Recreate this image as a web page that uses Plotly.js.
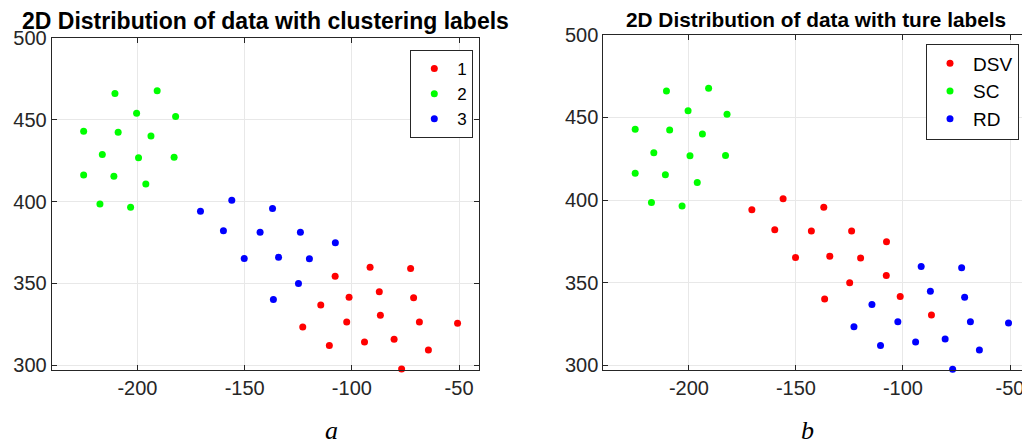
<!DOCTYPE html>
<html>
<head>
<meta charset="utf-8">
<script src="https://cdn.plot.ly/plotly-3.0.1.min.js"></script>
<style>
html,body{margin:0;padding:0;background:#fff;}
#chart{width:1022px;height:444px;}
</style>
</head>
<body>
<div id="chart"></div>
<script>
// ---- data ----
const pointX = [
  -210.5, -190.8, -200.4, -182.2, -225.1, -209.0, -193.7, -216.4, -199.5, -182.9, -225.1, -211.0, -196.1, -217.5, -203.2,
  -170.6, -156.0, -137.0, -159.9, -142.8, -124.0, -150.2, -134.2, -119.8, -124.9, -136.6, -107.7,
  -107.8, -101.3, -86.7,
  -91.5, -72.6, -87.2, -71.2, -114.5, -102.4, -68.5, -50.7, -122.9, -80.3, -110.5, -94.1, -64.3, -101.3, -76.8
];
const pointY = [
  466.0, 467.7, 454.0, 452.0, 442.9, 442.4, 440.0, 428.7, 426.8, 427.0, 416.2, 415.4, 410.7, 398.5, 396.5,
  394.1, 400.8, 395.7, 382.1, 381.3, 381.3, 365.2, 366.0, 365.0, 350.0, 340.2, 374.8,
  354.4, 341.6, 330.5,
  359.9, 359.1, 344.9, 341.2, 336.8, 326.4, 326.4, 325.6, 323.4, 315.9, 312.0, 314.2, 309.3, 297.0, 297.7
];
const clusterLabel = [
  2,2,2,2,2,2,2,2,2,2,2,2,2,2,2,
  3,3,3,3,3,3,3,3,3,3,3,3,
  1,1,1,
  1,1,1,1,1,1,1,1,1,1,1,1,1,1,1
];
const trueLabel = [
  'SC','SC','SC','SC','SC','SC','SC','SC','SC','SC','SC','SC','SC','SC','SC',
  'DSV','DSV','DSV','DSV','DSV','DSV','DSV','DSV','DSV','DSV','DSV','DSV',
  'DSV','DSV','DSV',
  'RD','RD','RD','RD','RD','RD','RD','RD','RD','RD','RD','RD','RD','RD','RD'
];
const clusterNames = ['1','2','3'];
const trueNames = ['DSV','SC','RD'];
const xTicks = [-200, -150, -100, -50];
const yTicks = [300, 350, 400, 450, 500];
const titleLeft = '2D Distribution of data with clustering labels';
const titleRight = '2D Distribution of data with ture labels';

// ---- styling ----
const colors = ['#ff0000', '#00ff00', '#0000ff'];
const FONT = 'Liberation Sans, Arial, Helvetica, sans-serif';
const INK = '#262626';
const W = 1022, H = 444;

function pick(arr, lab, v){ return arr.filter((_, i) => lab[i] === v); }

const traces = [];
clusterNames.forEach((nm, k) => {
  const v = k + 1;
  traces.push({
    type: 'scatter', mode: 'markers', name: nm,
    x: pick(pointX, clusterLabel, v), y: pick(pointY, clusterLabel, v),
    xaxis: 'x', yaxis: 'y', legend: 'legend', cliponaxis: false,
    marker: {color: colors[k], size: 7}
  });
});
trueNames.forEach((nm, k) => {
  traces.push({
    type: 'scatter', mode: 'markers', name: nm,
    x: pick(pointX, trueLabel, nm), y: pick(pointY, trueLabel, nm),
    xaxis: 'x2', yaxis: 'y2', legend: 'legend2', cliponaxis: false,
    marker: {color: colors[k], size: 7}
  });
});

function xAxis(domain, range, mirror){
  return {
    domain: domain, range: range, tickvals: xTicks, ticktext: xTicks.map(String),
    showgrid: true, gridcolor: '#e8e8e8', gridwidth: 1, zeroline: false,
    showline: true, linecolor: INK, linewidth: 1, mirror: mirror,
    ticks: 'inside', ticklen: 5, tickcolor: INK, tickwidth: 1,
    ticklabeloverflow: 'allow',
    tickfont: {family: FONT, size: 20, color: INK}, fixedrange: true
  };
}
function yAxis(domain, range, mirror, anchor){
  return {
    domain: domain, range: range, tickvals: yTicks, ticktext: yTicks.map(String),
    anchor: anchor,
    showgrid: true, gridcolor: '#e8e8e8', gridwidth: 1, zeroline: false,
    showline: true, linecolor: INK, linewidth: 1, mirror: mirror,
    ticks: 'inside', ticklen: 5, tickcolor: INK, tickwidth: 1,
    ticklabeloverflow: 'allow',
    tickfont: {family: FONT, size: 20, color: INK}, fixedrange: true
  };
}

const layout = {
  width: W, height: H,
  margin: {l: 0, r: 0, t: 0, b: 0, pad: 0},
  paper_bgcolor: '#ffffff', plot_bgcolor: '#ffffff',
  showlegend: true,
  xaxis: Object.assign(xAxis([51.7/W, 479/W], [-240, -40.7], 'allticks'), {anchor: 'y'}),
  yaxis: yAxis([1-370/H, 1-37.5/H], [297.1, 500.2], 'allticks', 'x'),
  xaxis2: Object.assign(xAxis([603.3/W, 1], [-240, -44.4], 'allticks'), {anchor: 'y2'}),
  yaxis2: yAxis([1-370/H, 1-34.5/H], [297.2, 500.2], false, 'x2'),
  legend: {
    x: 473.3/W, xanchor: 'right', y: 1-50/H, yanchor: 'top',
    bgcolor: '#ffffff', bordercolor: INK, borderwidth: 1, itemwidth: 36,
    font: {family: FONT, size: 17, color: '#000'}, tracegroupgap: 0
  },
  legend2: {
    x: 1019/W, xanchor: 'right', y: 1-43.5/H, yanchor: 'top',
    bgcolor: '#ffffff', bordercolor: INK, borderwidth: 1, itemwidth: 36,
    font: {family: FONT, size: 19, color: '#000'}, tracegroupgap: 0
  },
  annotations: [
    {text: '<b>' + titleLeft + '</b>', xref: 'paper', yref: 'paper', x: 265/W, y: 1-21/H,
     xanchor: 'center', yanchor: 'middle', showarrow: false,
     font: {family: FONT, size: 23, color: '#000'}},
    {text: '<b>' + titleRight + '</b>', xref: 'paper', yref: 'paper', x: 816/W, y: 1-20/H,
     xanchor: 'center', yanchor: 'middle', showarrow: false,
     font: {family: FONT, size: 20.8, color: '#000'}},
    {text: '<i>a</i>', xref: 'paper', yref: 'paper', x: 331/W, y: 0,
     xanchor: 'center', yanchor: 'bottom', yshift: -3, showarrow: false,
     font: {family: 'Liberation Serif, Times New Roman, serif', size: 26, color: '#000'}},
    {text: '<i>b</i>', xref: 'paper', yref: 'paper', x: 807/W, y: 0,
     xanchor: 'center', yanchor: 'bottom', yshift: -3, showarrow: false,
     font: {family: 'Liberation Serif, Times New Roman, serif', size: 26, color: '#000'}}
  ]
};

Plotly.newPlot('chart', traces, layout, {staticPlot: true, displayModeBar: false});
</script>
</body>
</html>
